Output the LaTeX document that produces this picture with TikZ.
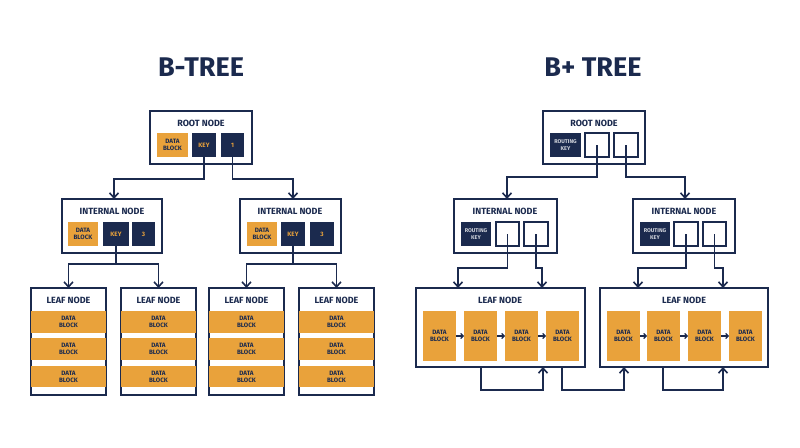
\documentclass[tikz,border=0pt]{standalone}
\usepackage{fontspec}
\setmainfont{Fira Sans}
\usetikzlibrary{arrows.meta}
\definecolor{navy}{HTML}{1B2A4E}
\definecolor{gold}{HTML}{E9A23B}
\newcommand\bx[7]{\node[#6, minimum width=#4pt-#2pt, minimum height=#5pt-#3pt] (#1) at ({(#2+#4)/2},{(#3+#5)/2}) {#7};}
\begin{document}
\begin{tikzpicture}[x=1pt,y=-1pt,
  every node/.style={inner sep=0pt, outer sep=0pt, align=center},
  frame/.style={draw=navy, line width=1.8pt, fill=white},
  ttl/.style={text=navy, font=\fontsize{9}{10}\selectfont\bfseries},
  big/.style={text=navy, font=\fontsize{27}{30}\selectfont\bfseries},
  ob/.style={fill=gold, text=navy, font=\fontsize{6.3}{7.2}\selectfont\bfseries},
  db/.style={fill=navy, text=gold, font=\fontsize{6.3}{7.2}\selectfont\bfseries},
  rk/.style={fill=navy, text=white!80!navy, font=\fontsize{5.5}{6.5}\selectfont\bfseries},
  eb/.style={draw=navy, line width=1.5pt, fill=white},
  arr/.style={draw=navy, line width=1.8pt, -{Straight Barb[length=5pt,width=9pt,line width=1.6pt]}},
  sarr/.style={draw=navy, line width=1.2pt, -{Straight Barb[length=2.5pt,width=5pt,line width=1.2pt]}}]
\useasboundingbox (0,0) rectangle (800,447);
\fill[white] (0,0) rectangle (800,447);
% titles
\node[big] (t1) at (201,67) {B-TREE};
\node[big] (t2) at (593,67) {B+ TREE};
% ===== B-TREE =====
\bx{r}{150}{111}{252}{164}{frame}{}
\node[ttl] (rt) at (201,123) {ROOT NODE};
\bx{rd}{157}{133}{188}{157}{ob}{DATA\\BLOCK}
\bx{rk}{192}{133}{216}{157}{db}{KEY}
\bx{r1}{221}{133}{244}{157}{db}{1}
\bx{i1}{62}{199}{162}{253}{frame}{}
\node[ttl] (i1t) at (112,211) {INTERNAL NODE};
\bx{i1d}{68}{222}{98}{246}{ob}{DATA\\BLOCK}
\bx{i1k}{103}{222}{129}{246}{db}{KEY}
\bx{i13}{132}{222}{155}{246}{db}{3}
\bx{i2}{240}{199}{341}{253}{frame}{}
\node[ttl] (i2t) at (290,211) {INTERNAL NODE};
\bx{i2d}{247}{222}{277}{246}{ob}{DATA\\BLOCK}
\bx{i2k}{281}{222}{305}{246}{db}{KEY}
\bx{i23}{310}{222}{334}{246}{db}{3}
\draw[arr] (rk.south) -- ++(0,22) -| (i1.north -| 114,0);
\draw[arr] (r1.south) -- ++(0,22) -| (i2.north -| 293,0);
\foreach \n/\a/\b in {l1/31/106,l2/121/196,l3/209/284,l4/299/374}{
  \bx{\n}{\a}{288}{\b}{395}{frame}{}
  \node[ttl] (\n t) at ({(\a+\b)/2},300) {LEAF NODE};
  \bx{\n a}{\a+6}{311}{\b-6}{333}{ob}{DATA\\BLOCK}
  \bx{\n b}{\a+6}{338}{\b-6}{360}{ob}{DATA\\BLOCK}
  \bx{\n c}{\a+6}{366}{\b-6}{387}{ob}{DATA\\BLOCK}
}
\draw[arr] (i1k.south) -- ++(0,18) -| (l1.north);
\draw[arr] (i1k.south) -- ++(0,18) -| (l2.north);
\draw[arr] (i2k.south) -- ++(0,18) -| (l3.north);
\draw[arr] (i2k.south) -- ++(0,18) -| (l4.north);
% ===== B+ TREE =====
\bx{R}{543}{111}{645}{164}{frame}{}
\node[ttl] (Rt) at (594,123) {ROOT NODE};
\bx{Rk}{550}{133}{581}{157}{rk}{ROUTING\\KEY}
\bx{Ra}{585}{133}{609}{157}{eb}{}
\bx{Rb}{614}{133}{638}{157}{eb}{}
\bx{I1}{454}{199}{557}{253}{frame}{}
\node[ttl] (I1t) at (505,211) {INTERNAL NODE};
\bx{I1k}{461}{222}{491}{246}{rk}{ROUTING\\KEY}
\bx{I1a}{496}{222}{519}{246}{eb}{}
\bx{I1b}{524}{222}{548}{246}{eb}{}
\bx{I2}{633}{199}{735}{253}{frame}{}
\node[ttl] (I2t) at (684,211) {INTERNAL NODE};
\bx{I2k}{640}{222}{670}{246}{rk}{ROUTING\\KEY}
\bx{I2a}{674}{222}{698}{246}{eb}{}
\bx{I2b}{703}{222}{726}{246}{eb}{}
\draw[arr] (Ra.center) -- ++(0,32) -| (I1.north -| 507,0);
\draw[arr] (Rb.center) -- ++(0,32) -| (I2.north -| 685,0);
\bx{L1}{416}{288}{585}{367}{frame}{}
\node[ttl] (L1t) at (500,300) {LEAF NODE};
\bx{L2}{600}{288}{768}{367}{frame}{}
\node[ttl] (L2t) at (684,300) {LEAF NODE};
\foreach \n/\a in {L1a/423,L1b/464,L1c/505,L1d/546,L2a/607,L2b/647,L2c/688,L2d/729}{
  \bx{\n}{\a}{311}{\a+33}{361}{ob}{DATA\\BLOCK}
}
\foreach \p/\q in {L1a/L1b,L1b/L1c,L1c/L1d,L2a/L2b,L2b/L2c,L2c/L2d}{
  \draw[sarr] (\p.east) -- (\q.west);
}
\draw[arr] (I1a.center) -- ++(0,34) -| (L1.north -| 458,0);
\draw[arr] (I1b.center) -- ++(0,34) -| (L1.north -| 542,0);
\draw[arr] (I2a.center) -- ++(0,34) -| (L2.north -| 638,0);
\draw[arr] (I2b.center) -- ++(0,34) -| (L2.north -| 723,0);
\draw[arr] (L1.south -| 481,0) -- ++(0,23) -| (L1.south -| 543,0);
\draw[arr] (L1.south -| 562,0) -- ++(0,23) -| (L2.south -| 624,0);
\draw[arr] (L2.south -| 663,0) -- ++(0,23) -| (L2.south -| 723,0);
\end{tikzpicture}
\end{document}
